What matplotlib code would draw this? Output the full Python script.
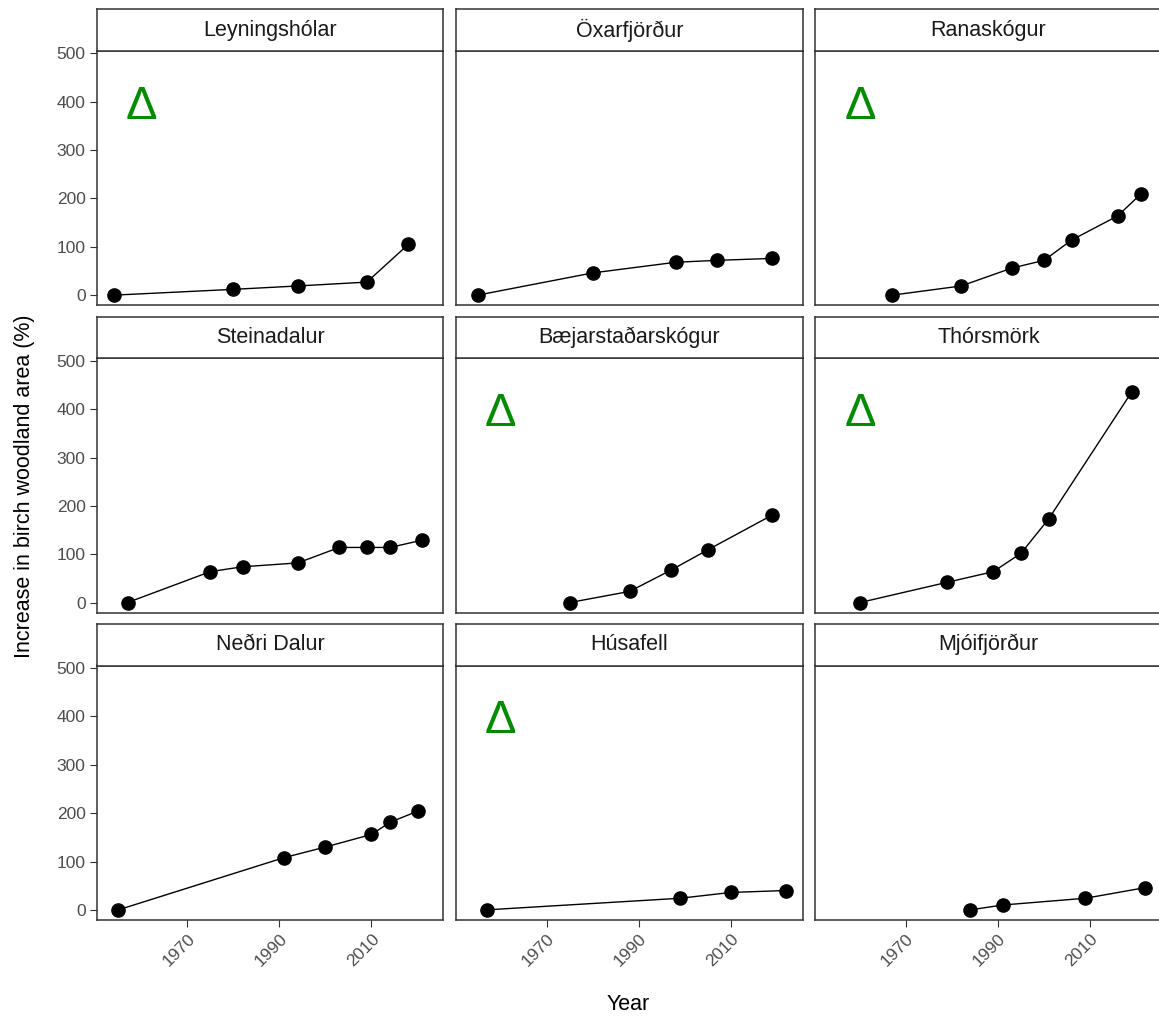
import matplotlib
matplotlib.use("Agg")
import matplotlib.pyplot as plt

plt.rcParams['font.family'] = ['Liberation Sans', 'DejaVu Sans']

# ---- data ----
sites = ["Leyningshólar", "Öxarfjörður", "Ranaskógur",
         "Steinadalur", "Bæjarstaðarskógur", "Thórsmörk",
         "Neðri Dalur", "Húsafell", "Mjóifjörður"]

leyningsholar_years = [1954, 1980, 1994, 2009, 2018]
leyningsholar_vals = [0, 12, 19, 27, 105]

oxarfjordur_years = [1955, 1980, 1998, 2007, 2019]
oxarfjordur_vals = [0, 46, 68, 72, 76]

ranaskogur_years = [1967, 1982, 1993, 2000, 2006, 2016, 2021]
ranaskogur_vals = [0, 19, 56, 72, 114, 164, 209]

steinadalur_years = [1957, 1975, 1982, 1994, 2003, 2009, 2014, 2021]
steinadalur_vals = [0, 64, 74, 82, 114, 114, 114, 129]

baejarstadarskogur_years = [1975, 1988, 1997, 2005, 2019]
baejarstadarskogur_vals = [0, 23, 67, 109, 181]

thorsmork_years = [1960, 1979, 1989, 1995, 2001, 2019]
thorsmork_vals = [0, 42, 64, 102, 173, 435]

nedri_dalur_years = [1955, 1991, 2000, 2010, 2014, 2020]
nedri_dalur_vals = [0, 108, 130, 156, 181, 204]

husafell_years = [1957, 1999, 2010, 2022]
husafell_vals = [0, 24, 36, 40]

mjoifjordur_years = [1984, 1991, 2009, 2022]
mjoifjordur_vals = [0, 10, 24, 46]

delta_sites = ["Leyningshólar", "Ranaskógur", "Bæjarstaðarskógur", "Thórsmörk", "Húsafell"]

x_ticks = [1970, 1990, 2010]
y_ticks = [0, 100, 200, 300, 400, 500]

series = {
    "Leyningshólar": (leyningsholar_years, leyningsholar_vals),
    "Öxarfjörður": (oxarfjordur_years, oxarfjordur_vals),
    "Ranaskógur": (ranaskogur_years, ranaskogur_vals),
    "Steinadalur": (steinadalur_years, steinadalur_vals),
    "Bæjarstaðarskógur": (baejarstadarskogur_years, baejarstadarskogur_vals),
    "Thórsmörk": (thorsmork_years, thorsmork_vals),
    "Neðri Dalur": (nedri_dalur_years, nedri_dalur_vals),
    "Húsafell": (husafell_years, husafell_vals),
    "Mjóifjörður": (mjoifjordur_years, mjoifjordur_vals),
}

# ---- layout ----
W, H = 1159, 1018
fig = plt.figure(figsize=(W / 100, H / 100), dpi=100)
fig.patch.set_facecolor("white")


def fx(px):
    return px / W


def fy(py):
    return 1 - py / H


col_left = [96.7, 456.0, 815.3]
pw = 346.6
row_top = [9.3, 316.7, 624.0]
sh = 41.5
ph = 254.5
border = "#333333"

for i, site in enumerate(sites):
    r, c = divmod(i, 3)
    left = col_left[c]
    top = row_top[r]
    ax = fig.add_axes([fx(left), fy(top + sh + ph), pw / W, ph / H])
    sax = fig.add_axes([fx(left), fy(top + sh), pw / W, sh / H])

    yrs, vals = series[site]
    ax.plot(yrs, vals, color="black", lw=1.0, marker="o", ms=9.5,
            mfc="black", mec="black", zorder=3)
    if site in delta_sites:
        ax.text(1960, 390, "Δ", color="#008B00", fontsize=34,
                ha="center", va="center")

    ax.set_xlim(1950.3, 2025.6)
    ax.set_ylim(-21, 505.5)
    ax.set_xticks(x_ticks)
    ax.set_yticks(y_ticks)
    ax.tick_params(length=5, width=0.8, color=border, labelsize=12.5,
                   labelcolor="#4D4D4D", pad=3)
    if c != 0:
        ax.tick_params(axis="y", left=False, labelleft=False)
    if r != 2:
        ax.tick_params(axis="x", bottom=False, labelbottom=False)
    else:
        for lbl in ax.get_xticklabels():
            lbl.set_rotation(45)
            lbl.set_ha("right")
            lbl.set_va("top")
            lbl.set_rotation_mode("anchor")
    for sp in ax.spines.values():
        sp.set_color(border)
        sp.set_linewidth(1.1)

    sax.set_facecolor("white")
    sax.set_xticks([])
    sax.set_yticks([])
    for sp in sax.spines.values():
        sp.set_color(border)
        sp.set_linewidth(1.1)
    sax.text(0.5, 0.5, site, ha="center", va="center", fontsize=15.5,
             color="#1A1A1A", transform=sax.transAxes)

fig.text(fx(25), fy(486), "Increase in birch woodland area (%)", rotation=90,
         ha="center", va="center", fontsize=15.5, color="black")
fig.text(fx(628), fy(1005), "Year", ha="center", va="center",
         fontsize=15.5, color="black")

fig.savefig("out.png", dpi=100)
